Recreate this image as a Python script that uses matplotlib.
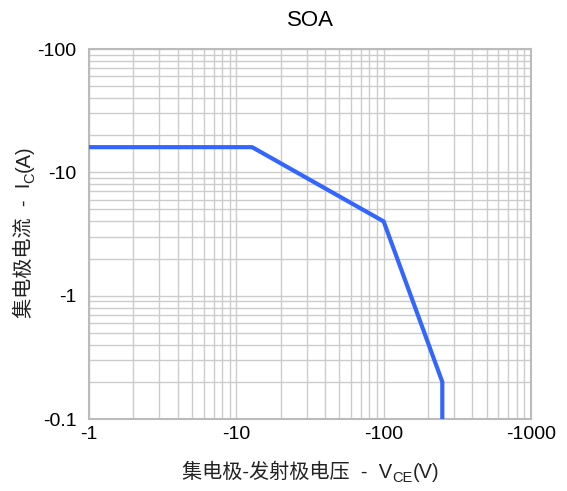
import numpy as np
import matplotlib.pyplot as plt
from matplotlib.ticker import FixedLocator, FixedFormatter, LogLocator, NullFormatter

plt.rcParams['font.family'] = ['Liberation Sans', 'Noto Sans CJK SC', 'DejaVu Sans']

# SOA boundary (magnitudes, plotted on log-log axes)
vce = [1, 12.8, 100, 250, 250]
ic = [16, 16, 4.0, 0.2, 0.1]

x_ticks = [1, 10, 100, 1000]
x_labels = ["-1", "-10", "-100", "-1000"]
y_ticks = [0.1, 1, 10, 100]
y_labels = ["-0.1", "-1", "-10", "-100"]

W, H = 567, 491
fig = plt.figure(figsize=(W / 100, H / 100), dpi=100)
ax = fig.add_axes([0.157, 0.1466, 0.7795, 0.7536])

ax.plot(vce, ic, color="#3366ff", lw=3, solid_capstyle="butt", zorder=3)

ax.set_xscale("log")
ax.set_yscale("log")
ax.set_xlim(1, 1000)
ax.set_ylim(0.1, 100)

ax.xaxis.set_major_locator(FixedLocator(x_ticks))
ax.xaxis.set_major_formatter(FixedFormatter(x_labels))
ax.yaxis.set_major_locator(FixedLocator(y_ticks))
ax.yaxis.set_major_formatter(FixedFormatter(y_labels))
ax.xaxis.set_minor_locator(LogLocator(base=10, subs=np.arange(2, 10)))
ax.yaxis.set_minor_locator(LogLocator(base=10, subs=np.arange(2, 10)))
ax.xaxis.set_minor_formatter(NullFormatter())
ax.yaxis.set_minor_formatter(NullFormatter())

ax.grid(True, which="both", color="#cccccc", lw=1)
ax.tick_params(which="both", length=0, labelsize=14, colors="black")
ax.tick_params(axis="x", pad=5)
ax.tick_params(axis="y", pad=9)
for s in ax.spines.values():
    s.set_color("#bbbbbb")
    s.set_linewidth(1.5)

fig.text(310 / W, (H - 26) / H, "SOA", fontsize=16, ha="center", va="baseline")

# axis labels with subscripts, built piece by piece so CJK glyphs keep their font
renderer = fig.canvas.get_renderer()


def text_width(s, size):
    t = fig.text(0, 0, s, fontsize=size)
    w = t.get_window_extent(renderer).width
    t.remove()
    return w


def label(parts, center, base, vertical=False):
    widths = [text_width(s, size) for s, size, _ in parts]
    pos = center - sum(widths) / 2
    for (s, size, drop), w in zip(parts, widths):
        if vertical:
            x, y = base + drop, pos
        else:
            x, y = pos, base - drop
        fig.text(x / W, y / H, s, fontsize=size, ha="left", va="baseline",
                 color="#222222", rotation=90 if vertical else 0,
                 rotation_mode="anchor")
        pos += w


label([("集电极-发射极电压  -  V", 14.5, 0), ("CE", 10.5, 4), ("(V)", 14.5, 0)],
      center=311, base=H - 478)
label([("集电极电流  -  I", 14.5, 0), ("C", 10.5, 4), ("(A)", 14.5, 0)],
      center=H - 232, base=30, vertical=True)

fig.savefig("out.png", dpi=100)
